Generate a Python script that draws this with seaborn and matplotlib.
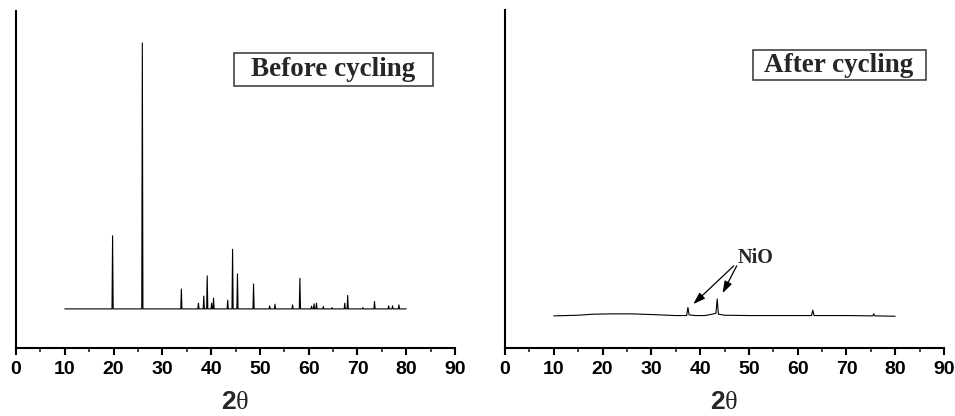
import numpy as np
import pandas as pd
import matplotlib
matplotlib.use("Agg")
import matplotlib.pyplot as plt
from matplotlib.patches import Rectangle
import seaborn as sns

# ---- data ----
before_start, before_end = 10.0, 80.0
before_base = 11.6
before_peak_pos = [19.8, 25.9, 33.9, 37.4, 38.5, 39.2, 40.1, 40.5, 43.4, 44.4, 45.4,
                   48.7, 52.0, 53.1, 56.7, 58.2, 60.6, 61.1, 61.6, 63.0, 64.8, 67.4,
                   68.0, 71.1, 73.5, 76.4, 77.2, 78.5]
before_peak_h = [33.3, 90.5, 17.5, 13.3, 15.4, 21.4, 13.3, 14.8, 14.2, 29.3, 22.0,
                 19.0, 12.5, 13.0, 12.8, 20.7, 12.4, 13.1, 13.3, 12.3, 12.0, 13.3,
                 15.6, 12.0, 13.8, 12.5, 12.5, 12.8]

after_x = [10.0, 15.0, 18.0, 22.0, 26.0, 30.0, 35.0, 37.25, 37.5, 37.75, 39.0, 41.0,
           42.5, 43.25, 43.5, 43.75, 45.0, 50.0, 62.85, 63.1, 63.35, 70.0, 75.4,
           75.6, 75.8, 80.0]
after_y = [9.5, 9.7, 10.0, 10.1, 10.1, 9.9, 9.6, 9.6, 12.0, 9.8, 9.6, 9.6,
           10.0, 10.3, 14.5, 10.0, 9.7, 9.6, 9.6, 11.2, 9.6, 9.6, 9.5,
           10.1, 9.5, 9.4]

x_ticks = [0, 10, 20, 30, 40, 50, 60, 70, 80, 90]
panel_labels = ["Before cycling", "After cycling"]
nio_label = "NiO"

# build the before-cycling profile from the peak list (base-peak-base per peak)
bx, by = [before_start], [before_base]
for p, h in zip(before_peak_pos, before_peak_h):
    bx += [p - 0.12, p, p + 0.12]
    by += [before_base, h, before_base]
bx.append(before_end)
by.append(before_base)
df_before = pd.DataFrame({"two_theta": bx, "intensity": by})
df_after = pd.DataFrame({"two_theta": after_x, "intensity": after_y})

sns.set_style("ticks")
plt.rcParams["font.family"] = ["Liberation Sans", "DejaVu Sans"]
plt.rcParams["mathtext.fontset"] = "custom"
plt.rcParams["mathtext.rm"] = "Liberation Serif"
plt.rcParams["mathtext.bf"] = "Liberation Sans:bold"

fig = plt.figure(figsize=(9.55, 4.16), dpi=100)
ax1 = fig.add_axes([16 / 955, 1 - 348 / 416, 439 / 955, 337 / 416])
ax2 = fig.add_axes([505 / 955, 1 - 348 / 416, 439 / 955, 338 / 416])

sns.lineplot(data=df_before, x="two_theta", y="intensity", ax=ax1, sort=False,
             estimator=None, color="black", linewidth=0.8)
sns.lineplot(data=df_after, x="two_theta", y="intensity", ax=ax2, sort=False,
             estimator=None, color="black", linewidth=0.8)

for ax in (ax1, ax2):
    ax.set_xlim(0, 90)
    ax.set_ylim(0, 100)
    ax.set_xticks(x_ticks)
    ax.set_xticks(np.arange(5, 90, 10), minor=True)
    ax.set_yticks([])
    ax.set_ylabel("")
    ax.set_xlabel(r"$\mathbf{2}\mathrm{\theta}$", fontsize=19, labelpad=9)
    for s in ("top", "right"):
        ax.spines[s].set_visible(False)
    for s in ("left", "bottom"):
        ax.spines[s].set_linewidth(1.5)
        ax.spines[s].set_color("black")
    ax.tick_params(axis="x", which="major", direction="out", length=5, width=1.5,
                   pad=4, labelsize=14, colors="black")
    ax.tick_params(axis="x", which="minor", direction="out", length=3, width=1.2)
    for lab in ax.get_xticklabels():
        lab.set_fontweight("bold")

# framed panel labels
ax1.add_patch(Rectangle((0.4966, 0.777), 0.9499 - 0.4966, 0.876 - 0.777,
                        transform=ax1.transAxes, facecolor="white",
                        edgecolor="#333333", linewidth=1.1, clip_on=False))
ax1.text(0.723, 0.826, panel_labels[0], transform=ax1.transAxes, ha="center",
         va="center", fontsize=19.5, fontweight="bold", family="Liberation Serif")
ax2.add_patch(Rectangle((0.564, 0.793), 0.959 - 0.564, 0.882 - 0.793,
                        transform=ax2.transAxes, facecolor="white",
                        edgecolor="#333333", linewidth=1.1, clip_on=False))
ax2.text(0.761, 0.837, panel_labels[1], transform=ax2.transAxes, ha="center",
         va="center", fontsize=19.5, fontweight="bold", family="Liberation Serif")

ax2.text(51.3, 26.6, nio_label, ha="center", va="center", fontsize=14.5,
         fontweight="bold", family="Liberation Serif")
arrow = dict(arrowstyle="-|>,head_length=0.6,head_width=0.2", color="black",
             linewidth=0.9, mutation_scale=12, shrinkA=0, shrinkB=0)
ax2.annotate("", xy=(38.6, 13.0), xytext=(46.9, 24.3), arrowprops=arrow)
ax2.annotate("", xy=(44.6, 16.2), xytext=(47.5, 24.3), arrowprops=arrow)

fig.savefig("out.png", dpi=100)
